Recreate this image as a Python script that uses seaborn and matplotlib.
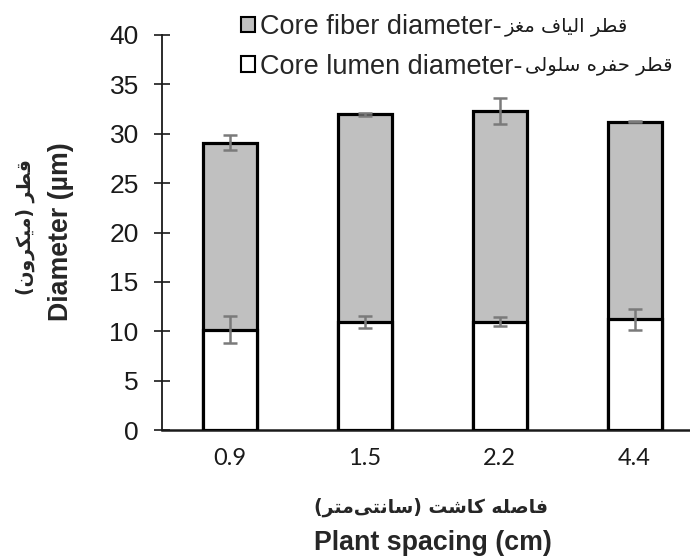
import matplotlib
matplotlib.use("Agg")
import matplotlib.pyplot as plt
import seaborn as sns
import pandas as pd
from matplotlib.patches import Patch

# ---------------- data ----------------
spacing = ["0.9", "1.5", "2.2", "4.4"]
fiber_diameter = [29.1, 31.95, 32.3, 31.2]
fiber_sd = [0.75, 0.12, 1.3, 0.06]
lumen_diameter = [10.15, 10.9, 10.95, 11.2]
lumen_sd = [1.35, 0.6, 0.45, 1.1]
yticks = [0, 5, 10, 15, 20, 25, 30, 35, 40]

legend_fiber_en = "Core fiber diameter-"
legend_fiber_fa = "قطر الیاف مغز"
legend_lumen_en = "Core lumen diameter-"
legend_lumen_fa = "قطر حفره سلولی"
ylabel_fa = "قطر (میکرون)"
ylabel_en = "Diameter (µm)"
xlabel_fa = "فاصله کاشت (سانتی\u200cمتر)"
xlabel_en = "Plant spacing (cm)"

# --------- minimal Persian shaping (presentation forms + visual order) ---------
FORMS = {
    'ا': ('\uFE8D', '\uFE8E', None, None),
    'ل': ('\uFEDD', '\uFEDE', '\uFEDF', '\uFEE0'),
    'ی': ('\uFBFC', '\uFBFD', '\uFBFE', '\uFBFF'),
    'ف': ('\uFED1', '\uFED2', '\uFED3', '\uFED4'),
    'م': ('\uFEE1', '\uFEE2', '\uFEE3', '\uFEE4'),
    'غ': ('\uFECD', '\uFECE', '\uFECF', '\uFED0'),
    'ز': ('\uFEAF', '\uFEB0', None, None),
    'ق': ('\uFED5', '\uFED6', '\uFED7', '\uFED8'),
    'ط': ('\uFEC1', '\uFEC2', '\uFEC3', '\uFEC4'),
    'ر': ('\uFEAD', '\uFEAE', None, None),
    'ح': ('\uFEA1', '\uFEA2', '\uFEA3', '\uFEA4'),
    'ه': ('\uFEE9', '\uFEEA', '\uFEEB', '\uFEEC'),
    'س': ('\uFEB1', '\uFEB2', '\uFEB3', '\uFEB4'),
    'و': ('\uFEED', '\uFEEE', None, None),
    'ک': ('\uFB8E', '\uFB8F', '\uFB90', '\uFB91'),
    'ن': ('\uFEE5', '\uFEE6', '\uFEE7', '\uFEE8'),
    'ص': ('\uFEB9', '\uFEBA', '\uFEBB', '\uFEBC'),
    'ش': ('\uFEB5', '\uFEB6', '\uFEB7', '\uFEB8'),
    'ت': ('\uFE95', '\uFE96', '\uFE97', '\uFE98'),
}


def shape(s):
    chars = list(s)
    out = []
    for i, c in enumerate(chars):
        if c not in FORMS:
            if c == '\u200c':
                continue
            out.append(c)
            continue
        prev = chars[i - 1] if i > 0 else None
        nxt = chars[i + 1] if i + 1 < len(chars) else None
        cp = prev in FORMS and FORMS[prev][2] is not None
        cn = nxt in FORMS and FORMS[c][2] is not None
        iso, fin, ini, med = FORMS[c]
        if cp and cn:
            g = med
        elif cp:
            g = fin
        elif cn:
            g = ini
        else:
            g = iso
        out.append(g)
    vis = ''.join(reversed(out))
    return vis.translate(str.maketrans('()', ')('))


# ---------------- figure ----------------
sns.set_theme(style="ticks")
plt.rcParams['font.family'] = ['Liberation Sans', 'DejaVu Sans']

W, H = 690, 558
fig = plt.figure(figsize=(W / 100, H / 100), dpi=100)
ax = fig.add_axes([162 / W, 1 - 430 / H, 540 / W, 395 / H])

df = pd.DataFrame({"spacing": spacing, "fiber": fiber_diameter, "lumen": lumen_diameter})

sns.barplot(data=df, x="spacing", y="fiber", color="#c0c0c0", saturation=1,
            edgecolor="black", linewidth=2.3, width=0.4, ax=ax, zorder=2)
sns.barplot(data=df, x="spacing", y="lumen", color="white", saturation=1,
            edgecolor="black", linewidth=2.3, width=0.4, ax=ax, zorder=3)

pos = list(range(len(spacing)))
ax.errorbar(pos, fiber_diameter, yerr=fiber_sd, fmt="none", ecolor="#7a7a7a",
            elinewidth=1.8, capsize=5, capthick=1.8, zorder=5)
ax.errorbar(pos, lumen_diameter, yerr=lumen_sd, fmt="none", ecolor="#7a7a7a",
            elinewidth=1.8, capsize=5, capthick=1.8, zorder=5)

ax.set_ylim(0, 40)
ax.set_xlim(-0.5, 3.5)
ax.set_yticks(yticks)
ax.set_yticklabels([str(v) for v in yticks], fontsize=19, color="#1a1a1a")
ax.tick_params(axis="y", direction="inout", length=11.5, width=1.2, pad=11, color="#1a1a1a")
ax.tick_params(axis="x", length=0, pad=13)
for lab in ax.get_xticklabels():
    lab.set_fontfamily("Lato")
    lab.set_fontsize(17)
    lab.set_color("#1a1a1a")
ax.set_xlabel("")
ax.set_ylabel("")
for side in ["top", "right"]:
    ax.spines[side].set_visible(False)
ax.spines["left"].set_linewidth(1.3)
ax.spines["left"].set_color("#1a1a1a")
ax.spines["bottom"].set_linewidth(1.8)
ax.spines["bottom"].set_color("#1a1a1a")

# axis titles
fig.text(25 / W, 1 - 227 / H, shape(ylabel_fa), rotation=90, ha="center", va="center",
         fontsize=13.5, fontweight="bold", family=["DejaVu Sans"])
fig.text(61 / W, 1 - 232 / H, ylabel_en, rotation=90, ha="center", va="center",
         fontsize=19.3, fontweight="bold")
fig.text(431 / W, 1 - 507 / H, shape(xlabel_fa), ha="center", va="center",
         fontsize=13.5, fontweight="bold", family=["DejaVu Sans"])
fig.text(433 / W, 1 - 543 / H, xlabel_en, ha="center", va="center",
         fontsize=19.3, fontweight="bold")

# legend (English part), Persian part appended right after each label
handles = [Patch(facecolor="#c0c0c0", edgecolor="black", linewidth=1.5),
           Patch(facecolor="white", edgecolor="black", linewidth=1.5)]
labels = [legend_fiber_en, legend_lumen_en]
leg = fig.legend(handles, labels, loc="upper left", bbox_to_anchor=(241 / W, 1 - 14 / H),
                 frameon=False, fontsize=19.5, handlelength=0.52, handleheight=0.52,
                 handletextpad=0.2, labelspacing=0.5, borderpad=0, borderaxespad=0)

fig.canvas.draw()
renderer = fig.canvas.get_renderer()
inv = fig.transFigure.inverted()
for txt, fa in zip(leg.get_texts(), [legend_fiber_fa, legend_lumen_fa]):
    bb = txt.get_window_extent(renderer)
    (x0, y0), (x1, y1) = inv.transform([[bb.x0, bb.y0], [bb.x1, bb.y1]])
    fig.text(x1 + 2 / W, (y0 + y1) / 2 + 1 / H, shape(fa), ha="left", va="center",
             fontsize=14, family=["DejaVu Sans"], color="#1a1a1a")

fig.savefig("out.png", dpi=100)
